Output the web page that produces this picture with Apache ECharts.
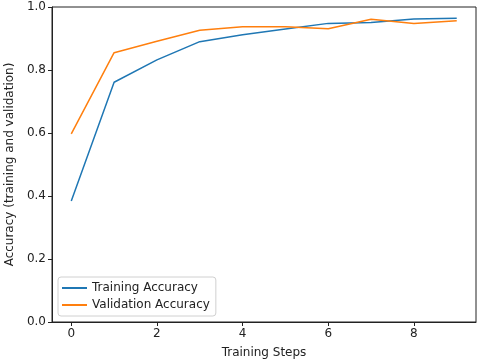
<!DOCTYPE html>
<html>
<head>
<meta charset="utf-8">
<script src="https://cdn.jsdelivr.net/npm/echarts@6/dist/echarts.min.js"></script>
<style>
  html, body { margin: 0; padding: 0; background: #fff; }
  #chart { width: 480px; height: 360px; }
</style>
</head>
<body>
<div id="chart"></div>
<script>
// 数据
const steps = [0, 1, 2, 3, 4, 5, 6, 7, 8, 9];
const trainingAcc = [0.384, 0.761, 0.832, 0.890, 0.912, 0.930, 0.948, 0.951, 0.962, 0.964];
const validationAcc = [0.597, 0.855, 0.891, 0.926, 0.937, 0.937, 0.931, 0.961, 0.948, 0.956];
const xTicks = [0, 2, 4, 6, 8];

const font = "DejaVu Sans";
const myChart = echarts.init(document.getElementById("chart"));

const toPairs = (ys) => steps.map((x, i) => [x, ys[i]]);

const option = {
  backgroundColor: "#fff",
  animation: false,
  textStyle: { fontFamily: font },
  grid: {
    left: 52,
    right: 4,
    top: 7,
    bottom: 38,
    outerBoundsMode: "none",
    containLabel: false,
    show: true,
    borderColor: "#222",
    borderWidth: 1,
  },
  // 图例
  legend: {
    orient: "vertical",
    left: 58,
    bottom: 44,
    icon: "rect",
    itemWidth: 25,
    itemHeight: 2,
    itemGap: 5,
    padding: [5, 6, 5, 4],
    borderColor: "#d0d0d0",
    borderWidth: 1,
    borderRadius: 3,
    backgroundColor: "rgba(255,255,255,0.8)",
    textStyle: { fontFamily: font, fontSize: 12, color: "#222" },
    data: ["Training Accuracy", "Validation Accuracy"],
  },
  xAxis: {
    type: "value",
    min: -0.45,
    max: 9.45,
    name: "Training Steps",
    nameLocation: "middle",
    nameGap: 25,
    nameTextStyle: { fontFamily: font, fontSize: 12, color: "#222" },
    axisLine: { show: true, onZero: false, lineStyle: { color: "#222", width: 1 } },
    axisTick: { show: true, length: 4, lineStyle: { color: "#222" }, customValues: xTicks },
    axisLabel: { fontFamily: font, fontSize: 12, color: "#222", margin: 6, customValues: xTicks },
    splitLine: { show: false },
  },
  yAxis: {
    type: "value",
    min: 0,
    max: 1,
    interval: 0.2,
    name: "Accuracy (training and validation)",
    nameLocation: "middle",
    nameGap: 33,
    nameTextStyle: { fontFamily: font, fontSize: 12, color: "#222" },
    axisLine: { show: true, onZero: false, lineStyle: { color: "#222", width: 1 } },
    axisTick: { show: true, length: 4, lineStyle: { color: "#222" } },
    axisLabel: {
      fontFamily: font,
      fontSize: 12,
      color: "#222",
      margin: 6,
      formatter: (v) => v.toFixed(1),
    },
    splitLine: { show: false },
  },
  series: [
    {
      name: "Training Accuracy",
      type: "line",
      data: toPairs(trainingAcc),
      showSymbol: false,
      symbol: "none",
      lineStyle: { color: "#1f77b4", width: 1.5 },
      itemStyle: { color: "#1f77b4" },
    },
    {
      name: "Validation Accuracy",
      type: "line",
      data: toPairs(validationAcc),
      showSymbol: false,
      symbol: "none",
      lineStyle: { color: "#ff7f0e", width: 1.5 },
      itemStyle: { color: "#ff7f0e" },
    },
  ],
};

option && myChart.setOption(option);
</script>
</body>
</html>
